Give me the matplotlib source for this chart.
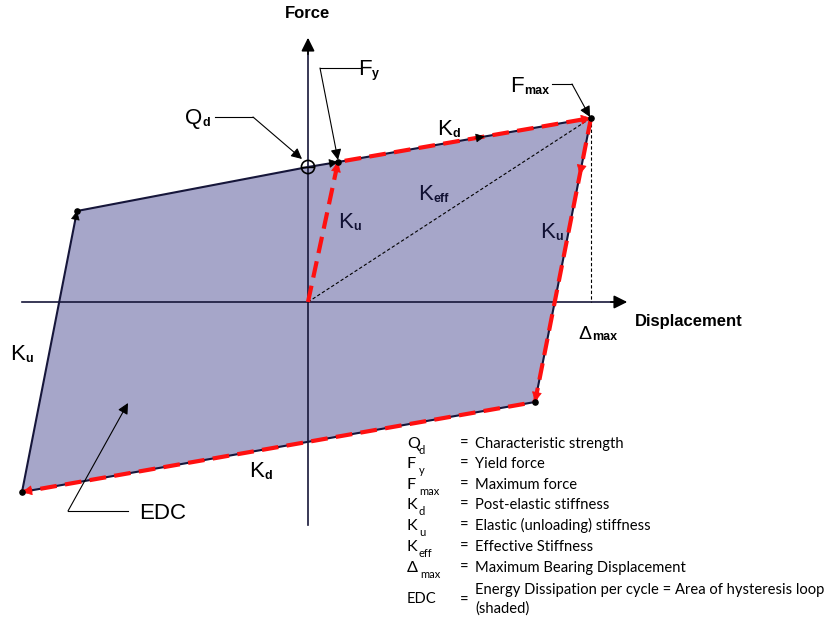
import numpy as np
import matplotlib.pyplot as plt

plt.rcParams['figure.dpi'] = 100

# hysteresis loop corners (arbitrary units, origin at 0,0)
# order: bottom-left, upper-left, Qd, Fy, Fmax, bottom-right
disp = [-286, -231, 0, 30, 283, 227]
force = [-190, 91, 135, 140, 184, -100]

legend_sym = ['Q', 'F', 'F', 'K', 'K', 'K', '\u0394', 'EDC']
legend_sub = ['d', 'y', 'max', 'd', 'u', 'eff', 'max', '']
legend_txt = ['Characteristic strength', 'Yield force', 'Maximum force',
              'Post-elastic stiffness', 'Elastic (unloading) stiffness',
              'Effective Stiffness', 'Maximum Bearing Displacement',
              'Energy Dissipation per cycle = Area of hysteresis loop', '(shaded)']

fill_col = '#a6a6c9'
edge_col = '#16163a'
red = '#ff1010'
lab_font = 'Liberation Sans'
leg_font = 'Lato'

fig = plt.figure(figsize=(8.26, 6.2))
ax = fig.add_axes([0, 0, 1, 1])
ax.set_xlim(-308, 518)
ax.set_ylim(-318, 302)
ax.axis('off')

bl, ul, qd, fy, fm, br = [(disp[i], force[i]) for i in range(6)]

# shaded loop
ax.fill(disp + [disp[0]], force + [force[0]], facecolor=fill_col, edgecolor='none', zorder=1)

# axes with arrows
ax.plot([-286, 316], [0, 0], color=edge_col, lw=1.2, zorder=2)
ax.plot([0, 0], [-223, 262], color=edge_col, lw=1.2, zorder=2)
ax.annotate('', xy=(322, 0), xytext=(300, 0),
            arrowprops=dict(arrowstyle='-|>', color='black', lw=1.2, mutation_scale=20), zorder=3)
ax.annotate('', xy=(0, 267), xytext=(0, 245),
            arrowprops=dict(arrowstyle='-|>', color='black', lw=1.2, mutation_scale=20), zorder=3)

# loop outline
ax.plot(disp + [disp[0]], force + [force[0]], color=edge_col, lw=1.5, zorder=3)

# Keff and delta max dashed lines
ax.plot([0, fm[0]], [0, fm[1]], color='black', lw=0.8, ls=(0, (3, 2)), zorder=3)
ax.plot([fm[0], fm[0]], [fm[1], 0], color='black', lw=0.8, ls=(0, (3, 2)), zorder=3)


def arrowhead(p0, p1, frac=1.0, color='black', size=14):
    # arrow head on segment p0->p1 with tip at fraction frac
    p0 = np.array(p0, float)
    p1 = np.array(p1, float)
    tip = p0 + frac * (p1 - p0)
    d = (p1 - p0) / np.hypot(*(p1 - p0))
    ax.annotate('', xy=tip, xytext=tip - d * 10,
                arrowprops=dict(arrowstyle='-|>', color=color, lw=0.5,
                                mutation_scale=size, shrinkA=0, shrinkB=0), zorder=6)


# black direction arrows
arrowhead(bl, ul)
arrowhead(qd, fy)
arrowhead(fy, fm, frac=0.58)

# red dashed loading path
red_x = [0, fy[0], fm[0], br[0], bl[0]]
red_y = [0, fy[1], fm[1], br[1], bl[1]]
ax.plot(red_x, red_y, color=red, lw=3, ls=(0, (4, 2)), zorder=5)
arrowhead((0, 0), fy, color=red, size=16)
arrowhead(fy, fm, color=red, size=16)
arrowhead(fm, br, frac=0.2, color=red, size=16)
arrowhead(fm, br, color=red, size=16)
arrowhead(br, bl, color=red, size=16)

# corner dots and Qd circle
ax.scatter([ul[0], fy[0], fm[0], br[0], bl[0]], [ul[1], fy[1], fm[1], br[1], bl[1]],
           s=14, color='black', zorder=7)
ax.scatter([qd[0]], [qd[1]], s=90, facecolor='none', edgecolor='black', lw=1.2, zorder=7)
ax.plot([-6, 6], [qd[1], qd[1]], color='black', lw=1, zorder=7)


def label(x, y, main, sub, size=16, subsize=9, color='black'):
    t = ax.text(x, y, main, fontsize=size, family=lab_font, va='baseline', ha='left',
                color=color, zorder=8)
    if sub:
        ax.annotate(sub, xy=(1, 0), xycoords=t, xytext=(0.5, 0), textcoords='offset points',
                    fontsize=subsize, fontweight='bold', family=lab_font, va='bottom',
                    ha='left', color=color, zorder=8)


ax.text(0, 284, 'Force', fontsize=12, fontweight='bold', family=lab_font,
        ha='center', va='baseline')
ax.text(327, -24, 'Displacement', fontsize=12, fontweight='bold', family=lab_font,
        ha='left', va='baseline')

label(50, 227, 'F', 'y')
label(-123, 178, 'Q', 'd')
label(202, 210, 'F', 'max')
label(129, 167, 'K', 'd')
label(110, 102, 'K', 'eff', color='#111133')
label(30, 74, 'K', 'u', color='#111133')
label(232, 64, 'K', 'u', color='#111133')
label(-298, -58, 'K', 'u')
label(-59, -175, 'K', 'd')
label(270, -37, '\u0394', 'max', size=14)
ax.text(-169, -217, 'EDC', fontsize=16, family=lab_font, va='baseline', ha='left')

# leader lines
leaders = [
    ([-93, -55], [185, 185], (-6, 143)),
    ([52, 12], [234, 234], (30, 142)),
    ([244, 264], [218, 218], (282, 185)),
    ([-180, -240], [-209, -209], (-180, -101)),
]
for lx, ly, tip in leaders:
    ax.plot(lx, ly, color='black', lw=0.8, zorder=8)
    ax.annotate('', xy=tip, xytext=(lx[-1], ly[-1]),
                arrowprops=dict(arrowstyle='-|>', color='black', lw=0.8,
                                mutation_scale=16, shrinkA=0, shrinkB=0), zorder=8)

# legend table
leg_size = 10.6
row_y = [-146, -166, -187, -207, -228, -249, -270]
for i in range(7):
    ax.text(99, row_y[i], legend_sym[i], fontsize=leg_size + 1, family=leg_font, va='baseline')
    ax.annotate(legend_sub[i], xy=(99, row_y[i]), xytext=(8.5 if i != 6 else 9.5, -4),
                textcoords='offset points', fontsize=8, family=leg_font,
                va='baseline', ha='left')
    ax.text(152, row_y[i], '=', fontsize=leg_size, family=leg_font, va='baseline')
    ax.text(167, row_y[i], legend_txt[i], fontsize=leg_size, family=leg_font, va='baseline')
ax.text(99, -301, legend_sym[7], fontsize=leg_size, family=leg_font, va='baseline')
ax.text(152, -303, '=', fontsize=leg_size, family=leg_font, va='baseline')
ax.text(167, -292, legend_txt[7], fontsize=leg_size, family=leg_font, va='baseline')
ax.text(167, -311, legend_txt[8], fontsize=leg_size, family=leg_font, va='baseline')

fig.savefig('out.png', dpi=100)
